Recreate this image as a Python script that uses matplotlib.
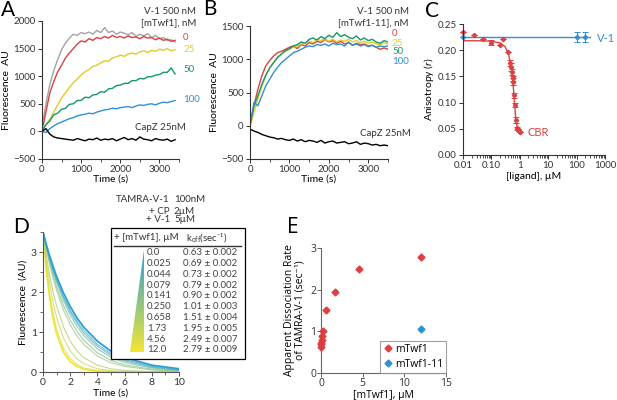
import numpy as np
import matplotlib
matplotlib.use('Agg')
import matplotlib.pyplot as plt
from matplotlib.colors import LinearSegmentedColormap
from matplotlib.patches import Rectangle, Polygon
from matplotlib.ticker import MultipleLocator, LogLocator, NullFormatter

plt.rcParams['font.family'] = ['Lato', 'DejaVu Sans']
plt.rcParams['mathtext.fontset'] = 'custom'
plt.rcParams['mathtext.rm'] = 'Lato'
plt.rcParams['mathtext.it'] = 'Lato:italic'
plt.rcParams['font.size'] = 7.5
plt.rcParams['axes.linewidth'] = 0.8

# ---- panel A: V-1 500 nM + mTwf1 ----
time_a = np.arange(0, 3500, 100)
a_gray = [80, 500, 850, 1100, 1300, 1480, 1600, 1690, 1760, 1740, 1790, 1770, 1800, 1760, 1830, 1790, 1880, 1790,
          1820, 1760, 1800, 1780, 1750, 1790, 1720, 1760, 1730, 1770, 1700, 1740, 1680, 1700, 1650, 1660, 1620]
a_red = [0, 350, 700, 900, 1080, 1200, 1330, 1420, 1500, 1580, 1640, 1620, 1680, 1650, 1700, 1680, 1720, 1690,
         1740, 1700, 1720, 1690, 1730, 1700, 1710, 1680, 1720, 1690, 1700, 1660, 1690, 1650, 1670, 1630, 1650]
a_yellow = [80, 120, 220, 350, 480, 600, 700, 800, 880, 950, 1020, 1080, 1120, 1180, 1200, 1240, 1280, 1270,
            1330, 1350, 1380, 1360, 1400, 1420, 1400, 1440, 1460, 1430, 1470, 1450, 1490, 1470, 1500, 1460, 1480]
a_green = [0, 120, 190, 300, 330, 400, 420, 490, 500, 560, 560, 620, 610, 660, 670, 720, 710, 770, 780, 830,
           840, 870, 870, 920, 920, 960, 950, 990, 990, 1020, 1030, 1070, 1070, 1150, 1040]
a_blue = [0, -20, 50, 100, 140, 170, 200, 230, 250, 280, 300, 310, 330, 320, 350, 370, 390, 400, 420, 410,
          430, 440, 450, 430, 460, 480, 470, 490, 500, 480, 510, 530, 520, 540, 560]
a_black = [0, 50, -50, -100, -120, -130, -140, -150, -160, -130, -150, -170, -140, -150, -120, -160, -140, -150,
           -130, -170, -140, -110, -150, -130, -160, -100, -140, -150, -170, -130, -150, -160, -140, -180, -150]
a_labels = ['0', '25', '50', '100']

# ---- panel B: V-1 500 nM + mTwf1-11 ----
time_b = np.arange(0, 3600, 100)
b_red = [0, 300, 550, 750, 900, 980, 1050, 1100, 1120, 1150, 1180, 1200, 1160, 1220, 1200, 1250, 1230, 1270,
         1250, 1300, 1260, 1280, 1240, 1270, 1230, 1250, 1210, 1240, 1220, 1230, 1200, 1210, 1180, 1150, 1170, 1150]
b_yellow = [0, 200, 400, 600, 750, 870, 950, 1020, 1080, 1120, 1150, 1180, 1200, 1230, 1250, 1270, 1250, 1300,
            1280, 1310, 1270, 1300, 1260, 1290, 1270, 1300, 1260, 1280, 1250, 1270, 1240, 1260, 1230, 1220, 1250, 1230]
b_green = [0, 300, 450, 620, 760, 870, 950, 1030, 1080, 1130, 1160, 1200, 1220, 1260, 1240, 1300, 1320, 1290,
           1340, 1310, 1360, 1330, 1400, 1340, 1370, 1330, 1310, 1350, 1290, 1320, 1280, 1300, 1260, 1240, 1280, 1260]
b_blue = [0, 350, 300, 450, 600, 700, 800, 880, 950, 1000, 1050, 1100, 1120, 1150, 1180, 1200, 1190, 1220,
          1210, 1230, 1200, 1240, 1220, 1230, 1200, 1260, 1210, 1230, 1200, 1220, 1190, 1210, 1180, 1200, 1190, 1200]
b_black = [-50, -80, -100, -130, -150, -170, -180, -200, -190, -210, -220, -200, -230, -210, -240, -220, -230, -250,
           -220, -260, -240, -230, -260, -250, -240, -270, -260, -240, -280, -260, -270, -290, -280, -300, -290, -300]

# ---- panel C: anisotropy ----
cbr_x = [0.01, 0.025, 0.05, 0.1, 0.2, 0.25, 0.37, 0.45, 0.5, 0.52, 0.58, 0.6, 0.65, 0.67, 0.72, 0.8, 0.85, 0.95, 1.0]
cbr_y = [0.234, 0.229, 0.221, 0.214, 0.210, 0.221, 0.197, 0.175, 0.168, 0.158, 0.146, 0.140, 0.114, 0.095,
         0.067, 0.051, 0.049, 0.045, 0.044]
cbr_err = [0, 0, 0, 0.005, 0, 0, 0, 0.006, 0.008, 0.006, 0.005, 0.006, 0.005, 0.004, 0.005, 0.003, 0, 0, 0]
cbr_fit_x = [0.01, 0.05, 0.1, 0.2, 0.3, 0.39, 0.45, 0.52, 0.59, 0.67, 0.72, 0.81, 0.9, 1.0]
cbr_fit_y = [0.218, 0.218, 0.217, 0.214, 0.207, 0.194, 0.180, 0.160, 0.130, 0.092, 0.069, 0.053, 0.048, 0.046]
v1_x = [0.01, 100, 200]
v1_y = [0.225, 0.225, 0.225]
v1_err = [0, 0.009, 0.009]
v1_fit_x = [0.01, 300]
v1_fit_y = [0.225, 0.225]

# ---- panel D: dissociation traces ----
d_time = [0, 0.25, 0.5, 0.75, 1, 1.5, 2, 2.5, 3, 4, 5, 6, 8, 10]
d_curves = [
    [3.50, 3.18, 2.89, 2.63, 2.39, 1.98, 1.64, 1.35, 1.12, 0.77, 0.52, 0.36, 0.17, 0.08],
    [3.50, 3.16, 2.86, 2.58, 2.33, 1.90, 1.55, 1.27, 1.04, 0.69, 0.46, 0.31, 0.14, 0.06],
    [3.50, 3.15, 2.83, 2.55, 2.29, 1.86, 1.50, 1.22, 0.98, 0.64, 0.42, 0.28, 0.12, 0.05],
    [3.50, 3.13, 2.80, 2.50, 2.24, 1.79, 1.43, 1.14, 0.91, 0.58, 0.37, 0.24, 0.10, 0.04],
    [3.50, 3.09, 2.73, 2.42, 2.13, 1.67, 1.30, 1.02, 0.79, 0.48, 0.29, 0.18, 0.07, 0.02],
    [3.50, 3.06, 2.67, 2.33, 2.04, 1.55, 1.18, 0.90, 0.69, 0.40, 0.23, 0.14, 0.05, 0.02],
    [3.50, 2.90, 2.40, 1.99, 1.65, 1.13, 0.77, 0.53, 0.36, 0.17, 0.08, 0.04, 0.01, 0.00],
    [3.50, 2.77, 2.19, 1.73, 1.36, 0.85, 0.53, 0.33, 0.21, 0.08, 0.03, 0.01, 0.00, 0.00],
    [3.50, 2.61, 1.95, 1.45, 1.08, 0.60, 0.34, 0.19, 0.10, 0.03, 0.01, 0.00, 0.00, 0.00],
    [3.50, 2.53, 1.83, 1.32, 0.95, 0.50, 0.26, 0.14, 0.07, 0.02, 0.01, 0.00, 0.00, 0.00],
]
twf_conc = [0.0, 0.025, 0.044, 0.079, 0.141, 0.250, 0.658, 1.73, 4.56, 12.0]
twf_conc_labels = ['0.0', '0.025', '0.044', '0.079', '0.141', '0.250', '0.658', '1.73', '4.56', '12.0']
koff = [0.63, 0.69, 0.73, 0.79, 0.90, 1.01, 1.51, 1.95, 2.49, 2.79]
koff_err = [0.002, 0.002, 0.002, 0.002, 0.002, 0.003, 0.004, 0.005, 0.007, 0.009]

# ---- panel E ----
twf11_conc = [12.0]
twf11_koff = [1.05]

RED = '#dc4040'
GRAY = '#a3a3a3'
YELLOW = '#e4cc1e'
GREEN = '#15976c'
BLUE = '#2f90d4'
TXT = '#333333'
grad_cmap = LinearSegmentedColormap.from_list('bw', ['#2a9fd8', '#f2e634'])

fig = plt.figure(figsize=(6.17, 4.00), dpi=100)


def style(ax, color=TXT, size=7, pad=1.5):
    for s in ['top', 'right']:
        ax.spines[s].set_visible(False)
    for s in ['left', 'bottom']:
        ax.spines[s].set_color(color)
        ax.spines[s].set_linewidth(0.8)
    ax.tick_params(length=3, width=0.7, pad=pad, colors=color, labelsize=size, labelcolor=TXT)
    ax.tick_params(which='minor', length=2, width=0.6, colors=color)


# A
axA = fig.add_axes([42 / 617, 1 - 159 / 400, 137 / 617, 138 / 400])
for y, c in [(a_gray, GRAY), (a_red, RED), (a_yellow, YELLOW), (a_green, GREEN), (a_blue, BLUE), (a_black, 'black')]:
    axA.plot(time_a, y, color=c, lw=1)
axA.set_xlim(0, 3500)
axA.set_ylim(-500, 2000)
axA.set_xticks([0, 1000, 2000, 3000])
axA.xaxis.set_minor_locator(MultipleLocator(500))
axA.set_yticks([-500, 0, 500, 1000, 1500, 2000])
axA.set_xlabel('Time (s)', labelpad=0.5)
axA.set_ylabel('Fluorescence  AU', labelpad=2)
style(axA)

# B
axB = fig.add_axes([250 / 617, 1 - 159 / 400, 138 / 617, 133 / 400])
for y, c in [(b_red, RED), (b_yellow, YELLOW), (b_green, GREEN), (b_blue, BLUE), (b_black, 'black')]:
    axB.plot(time_b, y, color=c, lw=1)
axB.set_xlim(0, 3500)
axB.set_ylim(-500, 1500)
axB.set_xticks([0, 1000, 2000, 3000])
axB.xaxis.set_minor_locator(MultipleLocator(500))
axB.set_yticks([-500, 0, 500, 1000, 1500])
axB.set_xlabel('Time (s)', labelpad=0.5)
axB.set_ylabel('Fluorescence  AU', labelpad=2)
style(axB)

# C
axC = fig.add_axes([463 / 617, 1 - 155 / 400, 142 / 617, 131 / 400])
axC.set_xscale('log')
axC.plot(v1_fit_x, v1_fit_y, color=BLUE, lw=1)
axC.errorbar(v1_x, v1_y, yerr=v1_err, fmt='D', ms=2.2, color=BLUE, capsize=2.5, elinewidth=0.7, capthick=0.7,
             clip_on=False)
axC.plot(cbr_fit_x, cbr_fit_y, color=RED, lw=1)
axC.errorbar(cbr_x, cbr_y, yerr=cbr_err, fmt='D', ms=2.2, color=RED, capsize=2.5, elinewidth=0.7, capthick=0.7,
             clip_on=False)
axC.set_xlim(0.01, 1000)
axC.set_ylim(0, 0.25)
axC.set_xticks([0.01, 0.1, 1, 10, 100, 1000])
axC.set_xticklabels(['0.01', '0.10', '1', '10', '100', '1000'])
axC.xaxis.set_minor_locator(LogLocator(base=10, subs=np.arange(2, 10)))
axC.xaxis.set_minor_formatter(NullFormatter())
axC.set_yticks([0, 0.05, 0.10, 0.15, 0.20, 0.25])
axC.set_yticklabels(['0.00', '0.05', '0.10', '0.15', '0.20', '0.25'])
axC.set_xlabel('[ligand], µM', labelpad=1)
axC.set_ylabel('Anisotropy ($r$)', labelpad=1)
style(axC)

# D
axD = fig.add_axes([43 / 617, 1 - 372 / 400, 136 / 617, 140 / 400])
n = len(d_curves)
for i in range(n - 1, -1, -1):
    edge = i in (0, n - 1)
    axD.plot(d_time, d_curves[i], color=grad_cmap(i / (n - 1)), lw=1.3 if edge else 0.8,
             alpha=1.0 if edge else 0.75)
axD.set_xlim(0, 10)
axD.set_ylim(0, 3.5)
axD.set_xticks([0, 2, 4, 6, 8, 10])
axD.xaxis.set_minor_locator(MultipleLocator(1))
axD.set_yticks([0, 1, 2, 3])
axD.yaxis.set_minor_locator(MultipleLocator(0.5))
axD.set_xlabel('Time (s)', labelpad=1)
axD.set_ylabel('Fluorescence  (AU)', labelpad=2)
style(axD, color='#555555', size=7.5)

# E
efont = ['Open Sans', 'DejaVu Sans']
axE = fig.add_axes([321 / 617, 1 - 373 / 400, 125 / 617, 125 / 400])
axE.plot(twf_conc, koff, 'D', ms=3.5, color=RED, ls='none', label='mTwf1', clip_on=False)
axE.plot(twf11_conc, twf11_koff, 'D', ms=3.5, color=BLUE, ls='none', label='mTwf1-11', clip_on=False)
axE.set_xlim(0, 15)
axE.set_ylim(0, 3)
axE.set_xticks([0, 5, 10, 15])
axE.set_yticks([0, 1, 2, 3])
style(axE, color='#666666', size=7.5, pad=0.5)
for lab in axE.get_xticklabels() + axE.get_yticklabels():
    lab.set_family(efont)
axE.set_xlabel('[mTwf1], µM', family=efont, labelpad=0.5)
axE.set_ylabel('Apparent Dissociation Rate\nof TAMRA-V-1 (sec⁻¹)', family=efont, labelpad=3, linespacing=1.0)
leg = axE.legend(loc='lower right', bbox_to_anchor=(1.0, 0.0), borderaxespad=0, frameon=True, fancybox=False,
                 prop={'family': efont, 'size': 7.5}, handletextpad=0.1, handlelength=1.0, borderpad=0.3,
                 labelspacing=0.4)
leg.get_frame().set_edgecolor('#888888')
leg.get_frame().set_linewidth(0.8)

# overlay in pixel coordinates for annotations and the table
ov = fig.add_axes([0, 0, 1, 1])
ov.set_xlim(0, 617)
ov.set_ylim(400, 0)
ov.axis('off')

for x, y, s in [(1, 16, 'A'), (203, 15, 'B'), (425, 17, 'C'), (13, 233, 'D'), (287, 233, 'E')]:
    ov.text(x, y, s, fontsize=15, va='baseline', ha='left', color='black',
            family=efont if s == 'E' else None)

ov.text(196, 12, 'V-1 500 nM', ha='right', va='center', color=TXT, fontsize=7)
ov.text(196, 23, '[mTwf1], nM', ha='right', va='center', color=TXT, fontsize=7)
for y, s, c in zip([38, 50, 70, 99], a_labels, [RED, YELLOW, GREEN, BLUE]):
    ov.text(183, y, s, ha='left', va='center', color=c, fontsize=7)
ov.text(160, 127, 'CapZ 25nM', ha='center', va='center', color=TXT, fontsize=7)

ov.text(409, 12, 'V-1 500 nM', ha='right', va='center', color=TXT, fontsize=7)
ov.text(409, 23, '[mTwf1-11], nM', ha='right', va='center', color=TXT, fontsize=7)
for y, s, c in zip([33, 43, 52, 62], a_labels, [RED, YELLOW, GREEN, BLUE]):
    ov.text(392, y, s, ha='left', va='center', color=c, fontsize=7)
ov.text(385, 133, 'CapZ 25nM', ha='center', va='center', color=TXT, fontsize=7)

ov.text(597, 38, 'V-1', ha='left', va='center', color=BLUE, fontsize=8)
ov.text(528, 133, 'CBR', ha='left', va='center', color=RED, fontsize=8)

for y, lab, val in [(200, 'TAMRA-V-1', '100nM'), (211, '+ CP', '2µM'), (220, '+ V-1', '5µM')]:
    ov.text(170, y, lab, ha='right', va='center', color=TXT, fontsize=7)
    ov.text(174, y, val, ha='left', va='center', color=TXT, fontsize=7)

ov.add_patch(Rectangle((111, 228), 134, 131, facecolor='white', edgecolor='black', lw=0.9, zorder=3))
ov.plot([114, 241], [246, 246], color='#333333', lw=1, zorder=4)
ov.text(114, 238, '+ [mTwf1], µM', ha='left', va='center', color=TXT, fontsize=7, zorder=4)
ov.text(207, 238, 'k$_{\\rm off}$(sec⁻¹)', ha='center', va='center', color=TXT, fontsize=7, zorder=4)
for i, (cl, k, e) in enumerate(zip(twf_conc_labels, koff, koff_err)):
    y = 252.7 + i * 10.8
    ov.text(147, y, cl, ha='left', va='center', color='#444444', fontsize=7, zorder=4)
    ov.text(183, y, f'{k:.2f} ± {e:.3f}', ha='left', va='center', color='#444444', fontsize=7, zorder=4)

tri = Polygon([(144, 250), (144, 352), (130, 352)], closed=True, transform=ov.transData)
img = ov.imshow(np.linspace(0, 1, 200).reshape(-1, 1), extent=[130, 144, 352, 250], cmap=grad_cmap,
                aspect='auto', zorder=4)
img.set_clip_path(tri)
ov.set_xlim(0, 617)
ov.set_ylim(400, 0)

fig.savefig('out.png', dpi=100)
